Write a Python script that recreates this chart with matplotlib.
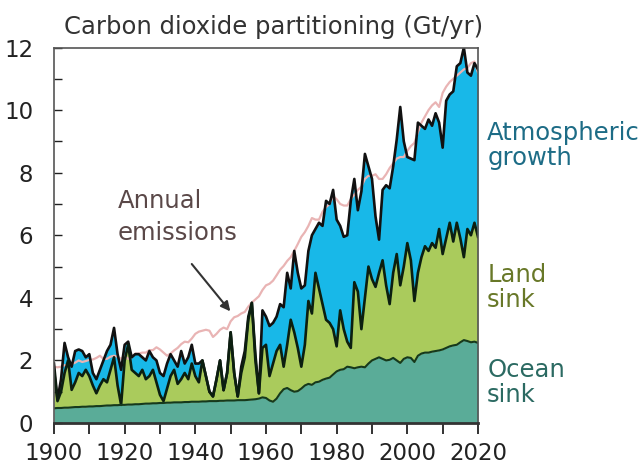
import numpy as np
import matplotlib
matplotlib.use("Agg")
import matplotlib.pyplot as plt

years = np.arange(1900, 2021)

# annual emissions (Gt/yr)
emissions = [
    1.80, 1.78, 1.80, 1.85, 1.82, 1.88, 1.93, 2.00, 1.95, 1.98,
    2.02, 2.03, 2.08, 2.15, 2.05, 2.05, 2.12, 2.15, 2.12, 2.05,
    2.15, 2.05, 2.10, 2.22, 2.22, 2.25, 2.25, 2.33, 2.33, 2.42,
    2.35, 2.25, 2.15, 2.22, 2.32, 2.40, 2.52, 2.60, 2.58, 2.70,
    2.85, 2.92, 2.95, 2.98, 2.95, 2.75, 2.85, 2.98, 3.05, 3.00,
    3.25, 3.38, 3.42, 3.50, 3.55, 3.72, 3.85, 3.95, 4.05, 4.25,
    4.40, 4.45, 4.55, 4.72, 4.90, 5.02, 5.18, 5.30, 5.50, 5.72,
    5.95, 6.10, 6.30, 6.55, 6.50, 6.50, 6.75, 6.90, 7.00, 7.25,
    7.15, 7.00, 6.95, 6.95, 7.15, 7.30, 7.45, 7.55, 7.80, 7.90,
    7.90, 7.95, 7.80, 7.80, 7.95, 8.15, 8.30, 8.45, 8.50, 8.50,
    8.70, 8.85, 8.95, 9.30, 9.60, 9.80, 10.00, 10.15, 10.25, 10.10,
    10.55, 10.75, 10.90, 11.00, 11.10, 11.20, 11.30, 11.35, 11.50, 11.55,
    11.20,
]

# top of the ocean sink band
ocean_top = [
    0.47, 0.48, 0.48, 0.49, 0.49, 0.50, 0.51, 0.51, 0.52, 0.52,
    0.53, 0.53, 0.54, 0.54, 0.55, 0.56, 0.56, 0.57, 0.57, 0.58,
    0.58, 0.59, 0.59, 0.60, 0.60, 0.61, 0.62, 0.62, 0.63, 0.63,
    0.64, 0.64, 0.65, 0.65, 0.66, 0.66, 0.66, 0.67, 0.67, 0.68,
    0.68, 0.68, 0.69, 0.69, 0.70, 0.70, 0.70, 0.71, 0.71, 0.72,
    0.72, 0.72, 0.73, 0.73, 0.73, 0.74, 0.75, 0.76, 0.78, 0.82,
    0.80, 0.72, 0.68, 0.78, 0.95, 1.08, 1.12, 1.05, 1.00, 1.02,
    1.10, 1.20, 1.25, 1.22, 1.30, 1.32, 1.38, 1.42, 1.45, 1.55,
    1.65, 1.70, 1.72, 1.80, 1.78, 1.75, 1.78, 1.80, 1.78, 1.90,
    2.00, 2.05, 2.10, 2.05, 2.00, 2.02, 2.08, 2.00, 1.92, 2.05,
    2.10, 2.08, 1.95, 2.15, 2.22, 2.25, 2.25, 2.28, 2.30, 2.32,
    2.35, 2.40, 2.45, 2.48, 2.50, 2.58, 2.65, 2.62, 2.58, 2.60,
    2.56,
]

# top of the land sink band (ocean + land)
land_top = [
    1.70, 0.70, 1.00, 1.60, 2.00, 1.06, 1.30, 1.60, 1.50, 1.70,
    1.50, 1.20, 0.95, 1.20, 1.40, 1.30, 1.70, 2.10, 1.20, 0.58,
    2.00, 2.50, 1.70, 1.60, 1.50, 1.70, 1.40, 1.50, 1.70, 1.30,
    0.90, 0.70, 1.10, 1.50, 1.70, 1.25, 1.40, 1.60, 1.40, 1.90,
    1.50, 1.30, 2.00, 1.50, 1.00, 0.85, 1.40, 2.00, 1.05, 1.60,
    2.90, 1.60, 0.85, 1.60, 2.10, 3.30, 3.84, 2.00, 0.95, 2.40,
    2.50, 1.50, 1.90, 2.30, 2.50, 1.80, 2.50, 3.30, 2.90, 2.40,
    1.80, 2.50, 3.90, 3.50, 4.80, 4.30, 3.80, 3.30, 3.20, 3.00,
    2.45, 3.60, 3.00, 2.60, 2.40, 4.50, 4.20, 3.00, 4.00, 5.00,
    4.60, 4.35, 4.80, 5.20, 4.40, 3.80, 4.80, 5.40, 4.40, 5.00,
    5.75, 5.20, 3.90, 4.80, 5.30, 5.65, 5.50, 5.75, 5.60, 6.20,
    5.40, 5.90, 6.40, 5.80, 6.40, 5.90, 5.30, 6.20, 6.00, 6.40,
    5.95,
]

# top of the atmospheric growth band (ocean + land + atmosphere)
atmos_top = [
    1.90, 0.75, 1.40, 2.56, 2.10, 1.80, 2.30, 2.35, 2.30, 2.10,
    2.20, 1.60, 1.40, 1.70, 2.00, 2.30, 2.50, 3.04, 2.20, 1.70,
    2.50, 2.60, 2.10, 2.20, 2.20, 2.10, 2.00, 2.30, 2.10, 2.00,
    1.60, 1.50, 1.90, 2.20, 2.00, 1.80, 2.30, 1.90, 2.10, 2.50,
    1.90, 1.90, 2.00, 1.50, 1.00, 0.85, 1.40, 2.00, 1.05, 1.60,
    2.90, 1.60, 0.85, 1.80, 2.30, 3.40, 3.84, 2.20, 0.95, 3.60,
    3.40, 3.10, 3.20, 3.40, 3.80, 3.70, 4.80, 4.30, 5.50, 4.80,
    4.30, 4.40, 5.50, 6.00, 6.20, 6.40, 6.30, 7.10, 7.00, 7.45,
    6.50, 6.30, 5.95, 6.00, 7.10, 7.80, 6.80, 7.40, 8.60, 8.20,
    7.80, 6.60, 5.86, 7.45, 7.60, 7.50, 8.20, 9.06, 10.10, 9.00,
    8.50, 8.45, 8.40, 9.60, 9.50, 9.40, 9.70, 9.50, 9.90, 9.60,
    8.80, 10.30, 10.50, 10.60, 11.40, 11.50, 12.00, 11.20, 11.10, 11.50,
    11.30,
]

ocean_col = "#5aac98"
land_col = "#aacb5c"
atmos_col = "#18b8e8"

fig = plt.figure(figsize=(6.41, 4.65), dpi=100)
ax = fig.add_axes([0.0842, 0.0903, 0.6615, 0.8075])

ax.fill_between(years, 0, ocean_top, color=ocean_col, lw=0)
ax.fill_between(years, ocean_top, land_top, color=land_col, lw=0)
ax.fill_between(years, land_top, atmos_top, color=atmos_col, lw=0)

ax.plot(years, emissions, color="#e9b4b4", lw=1.6)

ax.plot(years, atmos_top, color="#111111", lw=1.9)
ax.plot(years, land_top, color="#0c1f10", lw=1.9)
ax.plot(years, ocean_top, color="#16391c", lw=1.5)

ax.set_xlim(1900, 2020)
ax.set_ylim(0, 12)

ax.set_xticks(np.arange(1900, 2021, 10))
ax.set_xticklabels([str(y) if y % 20 == 0 else "" for y in range(1900, 2021, 10)])
ax.set_yticks(np.arange(0, 13, 1))
ax.set_yticklabels([str(v) if v % 2 == 0 else "" for v in range(0, 13)])
ax.tick_params(axis="x", direction="out", length=8, width=1.3, labelsize=16.5,
               pad=6, colors="#222222")
ax.tick_params(axis="y", direction="in", length=6, width=1.0, labelsize=16.5,
               pad=15, colors="#222222")

for side in ["top", "right", "left"]:
    ax.spines[side].set_color("#555555")
    ax.spines[side].set_linewidth(1.2)
ax.spines["bottom"].set_color("#333333")
ax.spines["bottom"].set_linewidth(2.0)

fig.text(0.4275, 0.942, "Carbon dioxide partitioning (Gt/yr)", ha="center",
         va="center", fontsize=17.5, color="#333333")

ax.text(1918.1, 6.59, "Annual\nemissions", ha="left", va="center",
        fontsize=17.5, color="#5a4848", linespacing=1.4)
ax.annotate("", xy=(1950.4, 3.5), xytext=(1938.5, 5.15),
            arrowprops=dict(arrowstyle="-|>", color="#333333", lw=1.5,
                            mutation_scale=14))

fig.text(0.76, 0.688, "Atmospheric\ngrowth", ha="left", va="center",
         fontsize=17.5, color="#1d6c86", linespacing=1.05)
fig.text(0.76, 0.382, "Land\nsink", ha="left", va="center",
         fontsize=17.5, color="#687828", linespacing=1.05)
fig.text(0.76, 0.178, "Ocean\nsink", ha="left", va="center",
         fontsize=17.5, color="#2b6a62", linespacing=1.05)

fig.savefig("out.png", dpi=100)
